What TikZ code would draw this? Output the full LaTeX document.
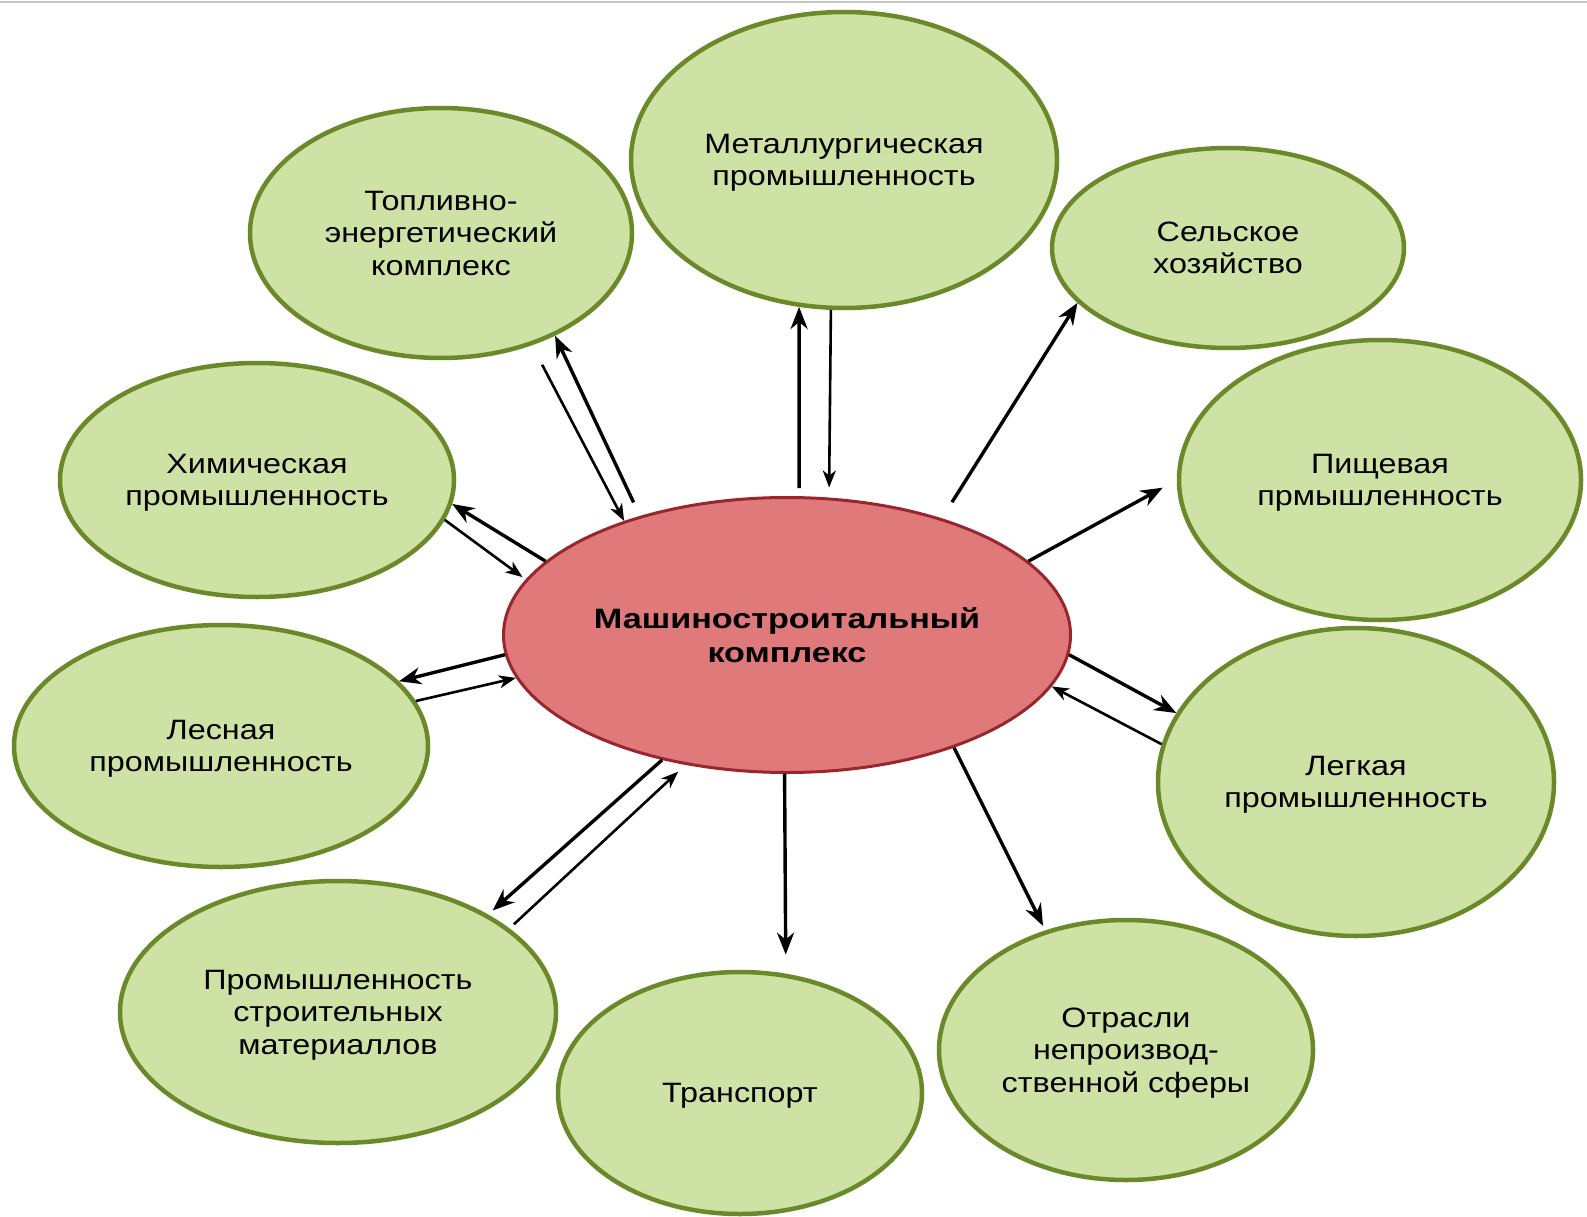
\documentclass[tikz,border=0pt]{standalone}
\usepackage{fontspec}
\setmainfont[FakeStretch=1.155]{Liberation Sans}
\newfontfamily\hubfont[FakeStretch=1.22]{Liberation Sans}
\usetikzlibrary{shapes.geometric}
\usetikzlibrary{arrows.meta}
\definecolor{leaf}{RGB}{207,226,166}
\definecolor{leafline}{RGB}{106,138,42}
\definecolor{hubfill}{RGB}{224,122,122}
\definecolor{hubline}{RGB}{152,38,44}

\begin{document}
\begin{tikzpicture}[x=1pt,y=-1pt,
    sector/.style={ellipse, draw=leafline, fill=leaf, line width=4.5pt, inner sep=0pt,
        align=center, text depth=0pt, font=\fontsize{28}{32.4}\selectfont},
    hub/.style={ellipse, draw=hubline, fill=hubfill, line width=3pt, inner sep=0pt,
        align=center, font=\hubfont\fontsize{28}{34.4}\selectfont\bfseries},
    arrthick/.style={line width=3.4pt, -{Stealth[length=22pt,width=17pt,inset=7pt]}},
    arrthin/.style={line width=2.6pt, -{Stealth[length=17pt,width=13pt,inset=5pt]}}]
        \useasboundingbox (0,0) rectangle (1587,1217);
        \draw[black!22, line width=1.5pt] (0,2) -- (1587,2);

        % Nodes
        \node[hub, minimum width=567pt, minimum height=275pt] (mash) at (787,635) {Машиностроитальный\\комплекс};
        \node[sector, minimum width=426pt, minimum height=296pt] (metal) at (844,160) {Металлургическая\\промышленность};
        \node[sector, minimum width=382pt, minimum height=250pt] (topl) at (441,233) {Топливно-\\энергетический\\комплекс};
        \node[sector, minimum width=352pt, minimum height=200pt] (farm) at (1228,248) {Сельское\\хозяйство};
        \node[sector, minimum width=394pt, minimum height=234pt] (chem) at (257,480) {Химическая\\промышленность};
        \node[sector, minimum width=402pt, minimum height=280pt] (food) at (1380,480) {Пищевая\\прмышленность};
        \node[sector, minimum width=414pt, minimum height=242pt] (forest) at (221,746) {Лесная\\промышленность};
        \node[sector, minimum width=396pt, minimum height=308pt] (light) at (1356,782) {Легкая\\промышленность};
        \node[sector, minimum width=436pt, minimum height=262pt] (build) at (338,1012) {Промышленность\\строительных\\материаллов};
        \node[sector, minimum width=364pt, minimum height=242pt] (trans) at (740,1093) {Транспорт};
        \node[sector, minimum width=374pt, minimum height=260pt] (services) at (1126,1050) {Отрасли\\непроизвод-\\ственной сферы};

        % Arrows
        \draw[arrthick, shorten <=8pt] (mash.85) -- (metal.-107);
        \draw[arrthin, shorten >=10pt] (metal.-95) -- (mash.73);
        \draw[arrthick, shorten <=15pt] (mash.141) -- (topl.-42);
        \draw[arrthin, shorten <=22pt] (topl.-51) -- (mash.145);
        \draw[arrthick] (mash.163) -- (chem.-7);
        \draw[arrthin, shorten >=4pt] (chem.-12) -- (mash.168);
        \draw[arrthick] (mash.184) -- (forest.20);
        \draw[arrthin] (forest.13) -- (mash.189);
        \draw[arrthick, shorten >=6pt] (mash.225) -- (build.33);
        \draw[arrthin, shorten <=6pt, shorten >=10pt] (build.26) -- (mash.232);
        \draw[arrthick, shorten >=19pt] (mash.269) -- (trans.69);
        \draw[arrthick, shorten >=5pt] (mash.-34) -- (services.124);
        \draw[arrthick] (mash.-4) -- (light.159);
        \draw[arrthin] (light.169) -- (mash.-11);
        \draw[arrthick, shorten >=16pt] (mash.17) -- (food.180);
        \draw[arrthick, shorten <=19pt] (mash.37) -- (farm.200);
\end{tikzpicture}
\end{document}
